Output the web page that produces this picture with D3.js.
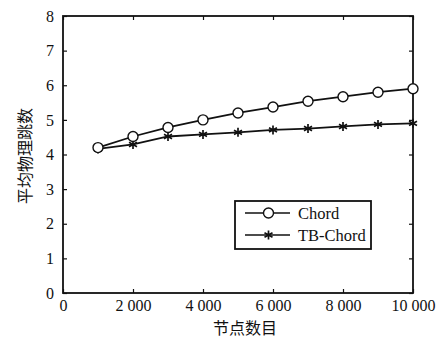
<!DOCTYPE html>
<html>
<head>
<meta charset="utf-8">
<script src="https://cdn.jsdelivr.net/npm/d3@7"></script>
<style>
  body { margin: 0; background: #fff; }
  text { fill: #111; }
</style>
</head>
<body>
<script>
const WIDTH = 445;
const HEIGHT = 338;

// data
var NODES = [1000, 2000, 3000, 4000, 5000, 6000, 7000, 8000, 9000, 10000];
var CHORD = [4.2, 4.52, 4.78, 5.0, 5.2, 5.37, 5.54, 5.67, 5.8, 5.9];
var TB_CHORD = [4.16, 4.29, 4.52, 4.58, 4.64, 4.71, 4.75, 4.81, 4.87, 4.9];
var X_TICKS = [0, 2000, 4000, 6000, 8000, 10000];
var Y_TICKS = [0, 1, 2, 3, 4, 5, 6, 7, 8];
var SERIES_NAMES = ["Chord", "TB-Chord"];

var margin = { left: 63, right: 32, top: 16, bottom: 45 };
var plotW = WIDTH - margin.left - margin.right;
var plotH = HEIGHT - margin.top - margin.bottom;

//DEFINE scales
var xScale = d3.scaleLinear().domain([0, 10000]).range([0, plotW]);
var yScale = d3.scaleLinear().domain([0, 8]).range([plotH, 0]);

var fmt = (d) => d >= 1000 ? d3.format(",")(d).replace(",", " ") : String(d);

var svg = d3.select("body").append("svg")
  .attr("width", WIDTH)
  .attr("height", HEIGHT)
  .attr("font-family", "'Liberation Serif', 'Times New Roman', serif");

var g = svg.append("g").attr("transform", `translate(${margin.left},${margin.top})`);

//axes with inward ticks
g.append("g").attr("transform", `translate(0,${plotH})`)
  .call(d3.axisBottom(xScale).tickValues(X_TICKS).tickSizeInner(-4).tickSizeOuter(0).tickPadding(7).tickFormat(fmt));
g.append("g")
  .call(d3.axisTop(xScale).tickValues(X_TICKS).tickSizeInner(-4).tickSizeOuter(0).tickFormat(""));
g.append("g")
  .call(d3.axisLeft(yScale).tickValues(Y_TICKS).tickSizeInner(-4).tickSizeOuter(0).tickPadding(9));
g.append("g").attr("transform", `translate(${plotW},0)`)
  .call(d3.axisRight(yScale).tickValues(Y_TICKS).tickSizeInner(-4).tickSizeOuter(0).tickFormat(""));

g.selectAll(".domain").remove();
g.selectAll(".tick line").attr("stroke", "#111").attr("stroke-width", 1.2);
g.selectAll(".tick text").attr("font-size", "16px").attr("fill", "#111")
  .attr("font-family", "'Liberation Serif', serif");

//frame
g.append("rect")
  .attr("width", plotW).attr("height", plotH)
  .attr("fill", "none").attr("stroke", "#111").attr("stroke-width", 1.8);

//lines
var line = d3.line().x((d) => xScale(d[0])).y((d) => yScale(d[1]));
var chordPts = NODES.map((n, i) => [n, CHORD[i]]);
var tbPts = NODES.map((n, i) => [n, TB_CHORD[i]]);

[chordPts, tbPts].forEach(function (pts) {
  g.append("path").datum(pts).attr("d", line)
    .attr("fill", "none").attr("stroke", "#111").attr("stroke-width", 1.8);
});

function asterisk(sel) {
  sel.append("path").attr("d", "M0,-4.5V4.5M-4,-2.2L4,2.2M-4,2.2L4,-2.2")
    .attr("stroke", "#111").attr("stroke-width", 1.7).attr("fill", "none");
}

g.selectAll(".tb").data(tbPts).enter().append("g").attr("class", "tb")
  .attr("transform", (d) => `translate(${xScale(d[0])},${yScale(d[1])})`)
  .call(asterisk);

g.selectAll(".chord").data(chordPts).enter().append("circle").attr("class", "chord")
  .attr("cx", (d) => xScale(d[0])).attr("cy", (d) => yScale(d[1]))
  .attr("r", 5).attr("fill", "#fff").attr("stroke", "#111").attr("stroke-width", 1.4);

//legend
var lg = svg.append("g").attr("transform", "translate(235,201)");
lg.append("rect").attr("width", 136).attr("height", 48)
  .attr("fill", "#fff").attr("stroke", "#111").attr("stroke-width", 1.8);
SERIES_NAMES.forEach(function (name, i) {
  var y = 12 + i * 22;
  lg.append("line").attr("x1", 10).attr("x2", 55).attr("y1", y).attr("y2", y)
    .attr("stroke", "#111").attr("stroke-width", 1.6);
  if (i === 0) {
    lg.append("circle").attr("cx", 33.5).attr("cy", y).attr("r", 5)
      .attr("fill", "#fff").attr("stroke", "#111").attr("stroke-width", 1.4);
  } else {
    lg.append("g").attr("transform", `translate(33.5,${y})`).call(asterisk);
  }
  lg.append("text").attr("x", 63).attr("y", y + 5.5).attr("font-size", "16.5px").text(name);
});

//axis titles
svg.append("text")
  .attr("x", 245).attr("y", 334)
  .attr("text-anchor", "middle").attr("font-size", "16px")
  .attr("font-family", "'Noto Sans CJK SC', sans-serif")
  .text("节点数目");

svg.append("text")
  .attr("transform", `translate(31,156) rotate(-90)`)
  .attr("text-anchor", "middle").attr("font-size", "16px")
  .attr("font-family", "'Noto Sans CJK SC', sans-serif")
  .text("平均物理跳数");
</script>
</body>
</html>
